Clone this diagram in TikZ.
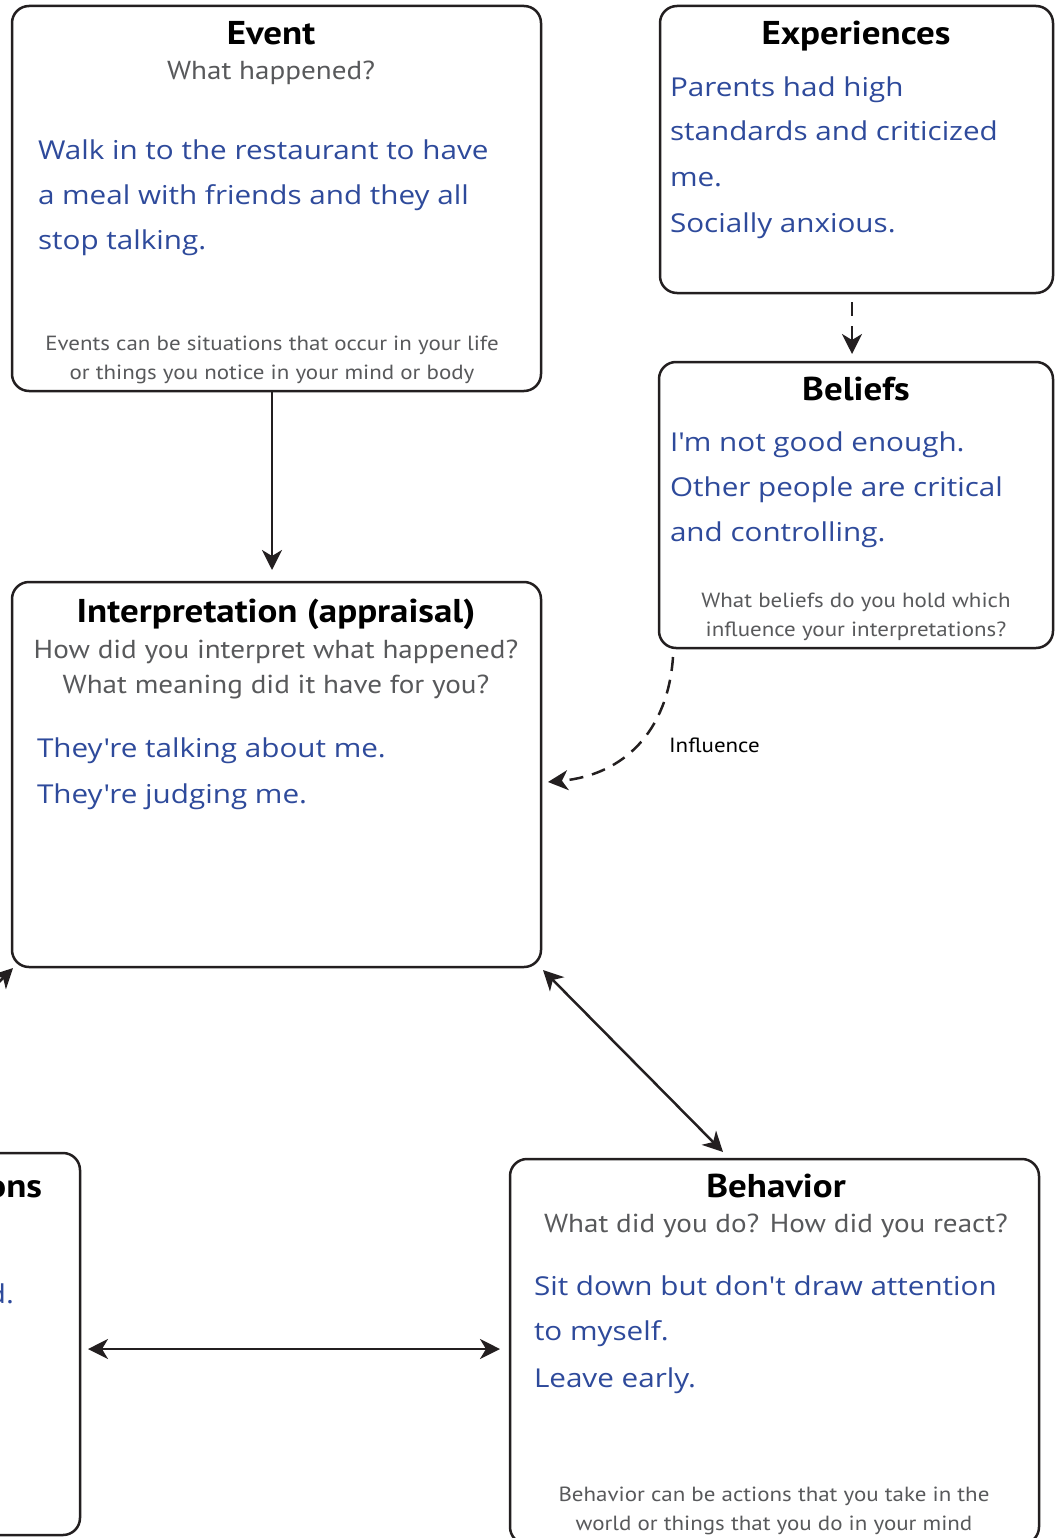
\documentclass[tikz,border=0pt]{standalone}
\usepackage{fontspec}
\setmainfont{PT Sans}[FakeStretch=1.12]
\newfontfamily\handfamily{Open Sans}[FakeStretch=1.14]
\newcommand*{\titlefont}{\fontsize{33}{36}\bfseries\selectfont}
\newcommand*{\askfont}{\fontsize{26}{30}\selectfont}
\newcommand*{\notefont}{\fontsize{20.5}{24}\selectfont}
\newcommand*{\handfont}{\handfamily\fontsize{26}{30}\selectfont}
\definecolor{ink}{HTML}{231F20}
\definecolor{note}{HTML}{58595B}
\definecolor{hand}{HTML}{2E4A9B}
\usetikzlibrary{arrows.meta}
\usetikzlibrary{positioning}
\tikzstyle{base}=[x=1pt, y=-1pt, inner sep=0pt, outer sep=0pt]
\tikzstyle{panel}=[draw=ink, line width=2.5pt, rounded corners=17pt, anchor=north west]
\tikzstyle{heading}=[anchor=base, text=black, font=\titlefont]
\tikzstyle{ask}=[anchor=base, text=note, font=\askfont]
\tikzstyle{remark}=[anchor=base, text=note, font=\notefont]
\tikzstyle{hand}=[anchor=base west, text=hand, font=\handfont]
\tikzstyle{link}=[draw=ink, line width=2.5pt, -{Stealth[length=20pt,width=20pt,inset=6pt]}]
\tikzstyle{twoway}=[draw=ink, line width=2.5pt, {Stealth[length=20pt,width=20pt,inset=6pt]}-{Stealth[length=20pt,width=20pt,inset=6pt]}]

\begin{document}
\begin{tikzpicture}[base]
    \useasboundingbox (0,0) rectangle (1062,1538);
    \clip (0,0) rectangle (1062,1538);
    % panels
    \node [panel, minimum width=529pt, minimum height=385pt] (event) at (12,6) {};
    \node [panel, minimum width=393pt, minimum height=287pt] (exper) at (660,6) {};
    \node [panel, minimum width=394pt, minimum height=286pt] (beliefs) at (659,362) {};
    \node [panel, minimum width=529pt, minimum height=385pt] (interp) at (12,582) {};
    \node [panel, minimum width=529pt, minimum height=385pt] (behav) at (510,1159) {};
    \node [panel, minimum width=529pt, minimum height=382pt] (emot) at (-449,1153) {};
    % event
    \node [heading] (eventT) at (271,45) {Event};
    \node [ask] (eventQ) at (271,80) {What happened?};
    \node [hand] (eventA1) at (38,160) {Walk in to the restaurant to have};
    \node [hand] (eventA2) at (38,205) {a meal with friends and they all};
    \node [hand] (eventA3) at (38,250) {stop talking.};
    \node [remark] (eventN1) at (272,350) {Events can be situations that occur in your life};
    \node [remark] (eventN2) at (272,379) {or things you notice in your mind or body};
    % experiences
    \node [heading] (experT) at (856,45) {Experiences};
    \node [hand] (experA1) at (670,97) {Parents had high};
    \node [hand] (experA2) at (670,141) {standards and criticized};
    \node [hand] (experA3) at (670,187) {me.};
    \node [hand] (experA4) at (670,233) {Socially anxious.};
    % beliefs
    \node [heading] (beliefsT) at (856,400) {Beliefs};
    \node [hand] (beliefsA1) at (670,451) {I'm not good enough.};
    \node [hand] (beliefsA2) at (670,496) {Other people are critical};
    \node [hand] (beliefsA3) at (670,541) {and controlling.};
    \node [remark] (beliefsN1) at (856,607) {What beliefs do you hold which};
    \node [remark] (beliefsN2) at (856,636) {influence your interpretations?};
    % interpretation
    \node [heading] (interpT) at (276,622) {Interpretation (appraisal)};
    \node [ask] (interpQ1) at (276,658) {How did you interpret what happened?};
    \node [ask] (interpQ2) at (276,693) {What meaning did it have for you?};
    \node [hand] (interpA1) at (37,757) {They're talking about me.};
    \node [hand] (interpA2) at (37,803) {They're judging me.};
    % behavior
    \node [heading] (behavT) at (776,1197) {Behavior};
    \node [ask] (behavQ) at (776,1232) {What did you do? How did you react?};
    \node [hand] (behavA1) at (534,1295) {Sit down but don't draw attention};
    \node [hand] (behavA2) at (534,1340) {to myself.};
    \node [hand] (behavA3) at (534,1387) {Leave early.};
    \node [remark] (behavN1) at (774,1501) {Behavior can be actions that you take in the};
    \node [remark] (behavN2) at (774,1530) {world or things that you do in your mind};
    % cut-off panel on the left
    \node [heading, anchor=base east] (emotT) at (42,1197) {ons};
    \node [hand, anchor=base east] (emotA) at (14,1303) {d.};
    % connectors
    \coordinate (downA) at (272,391);
    \coordinate (dashA) at (852,293);
    \coordinate (inflA) at (673,657);
    \coordinate (inflB) at (548,782);
    \coordinate (diagA) at (543,970);
    \coordinate (diagB) at (723,1152);
    \coordinate (offL) at (-60,1041);
    \coordinate (cornL) at (13,968);
    \draw [link, shorten >=12pt] (downA) -- (downA |- interp.north);
    \draw [link, dash pattern=on 14pt off 10pt, shorten <=9pt, shorten >=8pt] (dashA) -- (dashA |- beliefs.north);
    \draw [link, dash pattern=on 14pt off 9pt] (inflA) .. controls (668,730) and (625,775) .. (inflB);
    \node [anchor=base west, font=\notefont] (infl) at (669,752) {Influence};
    \draw [twoway] (diagA) -- (diagB);
    \draw [twoway, shorten <=8pt, shorten >=10pt] (emot.east |- 0,1349) -- (behav.west |- 0,1349);
    \draw [link] (offL) -- (cornL);
\end{tikzpicture}
\end{document}
